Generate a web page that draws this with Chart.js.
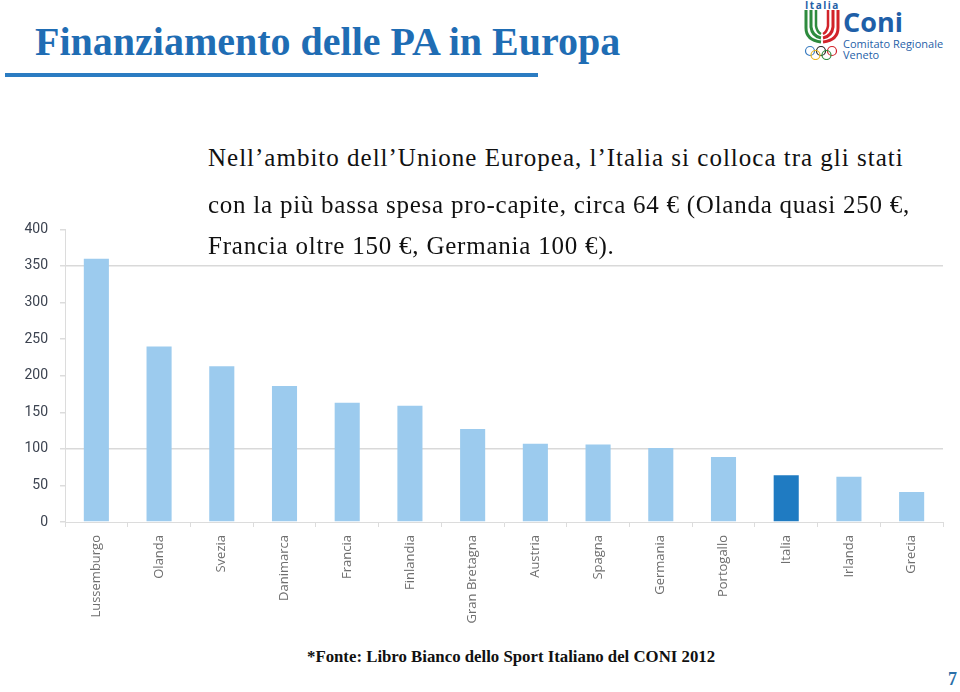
<!DOCTYPE html>
<html>
<head>
<meta charset="utf-8">
<script src="https://cdn.jsdelivr.net/npm/chart.js@4.4.1/dist/chart.umd.min.js"></script>
<style>
  html, body { margin:0; padding:0; background:#fff; }
  body { width:960px; height:692px; position:relative; overflow:hidden; }
  .abs { position:absolute; white-space:nowrap; }
  #title { left:35px; top:19px; font-family:"Liberation Serif", serif; font-weight:bold; font-size:40px; line-height:46px; color:#1f6db4; }
  #rule { left:5px; top:73px; width:533px; height:4px; background:#2b7cc2; }
  .body { left:208px; font-family:"Liberation Serif", serif; font-size:25px; line-height:30px; color:#111; }
  #foot { left:307px; top:647px; font-family:"Liberation Serif", serif; font-weight:bold; font-size:16.8px; color:#111; }
  #page { left:948px; top:669px; font-family:"Liberation Serif", serif; font-weight:bold; font-size:18px; color:#2b6fa8; }
  #chartWrap { left:0; top:209px; width:960px; height:429px; }
  #chartWrap canvas { display:block; }
  .logo { font-family:"Open Sans", sans-serif; color:#1f5fa8; }
</style>
</head>
<body>
<div id="title" class="abs">Finanziamento delle PA in Europa</div>
<div id="rule" class="abs"></div>

<div id="chartWrap" class="abs"><canvas id="c" width="960" height="429"></canvas></div>

<div class="abs body" style="top:143px; letter-spacing:1px;">Nell’ambito dell’Unione Europea, l’Italia si colloca tra gli stati</div>
<div class="abs body" style="top:190px; letter-spacing:0.75px;">con la più bassa spesa pro-capite, circa 64 € (Olanda quasi 250 €,</div>
<div class="abs body" style="top:231px; letter-spacing:0.78px;">Francia oltre 150 €, Germania 100 €).</div>

<div id="foot" class="abs">*Fonte: Libro Bianco dello Sport Italiano del CONI 2012</div>
<div id="page" class="abs">7</div>

<!-- logo -->
<div class="abs logo" style="left:805px; top:-2px; font-size:10px; font-weight:bold; letter-spacing:1.5px;">Italia</div>
<svg class="abs" style="left:804px; top:10px;" width="36" height="50" viewBox="0 0 36 50">
  <path d="M2 0 L2 18 Q2 30 17 32" stroke="#2e8b3e" stroke-width="3" fill="none"/>
  <path d="M7 0 L7 17 Q8 26 17 28" stroke="#2e8b3e" stroke-width="3" fill="none"/>
  <path d="M12 0 L12 16 Q13 22 17 24" stroke="#2e8b3e" stroke-width="2.5" fill="none"/>
  <path d="M34 0 L34 18 Q34 30 19 32" stroke="#d2232a" stroke-width="3" fill="none"/>
  <path d="M29 0 L29 17 Q28 26 19 28" stroke="#d2232a" stroke-width="3" fill="none"/>
  <path d="M24 0 L24 16 Q23 22 19 24" stroke="#d2232a" stroke-width="2.5" fill="none"/>
  <circle cx="6" cy="41" r="4.5" stroke="#3a7cc0" stroke-width="1.2" fill="none"/>
  <circle cx="17" cy="41" r="4.5" stroke="#222" stroke-width="1.2" fill="none"/>
  <circle cx="28" cy="41" r="4.5" stroke="#d2232a" stroke-width="1.2" fill="none"/>
  <circle cx="11.5" cy="45" r="4.5" stroke="#e8b520" stroke-width="1.2" fill="none"/>
  <circle cx="22.5" cy="45" r="4.5" stroke="#2e8b3e" stroke-width="1.2" fill="none"/>
</svg>
<div class="abs logo" style="left:843px; top:3px; font-size:27px; font-weight:bold;">Coni</div>
<div class="abs logo" style="left:843px; top:36px; font-size:11px;">Comitato Regionale</div>
<div class="abs logo" style="left:843px; top:47px; font-size:11px;">Veneto</div>

<script>
const categories = ['Lussemburgo','Olanda','Svezia','Danimarca','Francia','Finlandia','Gran Bretagna','Austria','Spagna','Germania','Portogallo','Italia','Irlanda','Grecia'];
const values = [360, 240, 213, 186, 163, 159, 127, 107, 106, 101, 89, 64, 62, 41];
const highlighted = 'Italia';
const yMin = 0, yMax = 400, yStep = 50;
const gridValues = [100, 350];

const lightBlue = '#9ccbee';
const darkBlue = '#1f7bc2';

new Chart(document.getElementById('c'), {
  type: 'bar',
  data: {
    labels: categories,
    datasets: [{
      data: values,
      backgroundColor: categories.map(c => c === highlighted ? darkBlue : lightBlue),
      borderWidth: 0,
      categoryPercentage: 1.0,
      barPercentage: 0.4
    }]
  },
  options: {
    responsive: false,
    animation: false,
    layout: { padding: { top: 1, right: 17, left: 0, bottom: 0 } },
    plugins: { legend: { display: false }, tooltip: { enabled: false } },
    scales: {
      x: {
        grid: { drawOnChartArea: false, color: '#dcdcdc', tickLength: 5, offset: true },
        border: { color: '#dcdcdc', width: 1 },
        ticks: {
          autoSkip: false, maxRotation: 90, minRotation: 90, padding: 8,
          color: '#6f6f6f', font: { family: 'Open Sans', size: 13 }
        },
        afterFit: s => { s.height = 116; }
      },
      y: {
        min: yMin, max: yMax,
        grid: {
          color: ctx => gridValues.includes(ctx.tick && ctx.tick.value) ? '#d9d9d9' : 'rgba(0,0,0,0)',
          tickColor: '#dcdcdc', tickLength: 5, lineWidth: 1.5
        },
        border: { color: '#dcdcdc', width: 1 },
        ticks: {
          stepSize: yStep, padding: 12, color: '#3c4350',
          font: { family: 'Roboto', size: 14 }
        },
        afterFit: s => { s.width = 65; }
      }
    }
  }
});
</script>
</body>
</html>
